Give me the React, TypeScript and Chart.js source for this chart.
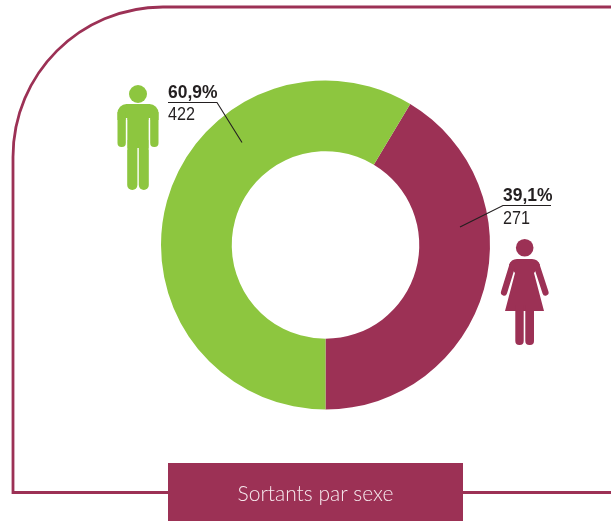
import React, { useEffect, useRef } from "react";
import { Chart, registerables } from "chart.js";

Chart.register(...registerables);

const categories = ["Femmes", "Hommes"];
const effectifs = [271, 422];
const pourcentages = ["39,1%", "60,9%"];
// Arc shares as drawn in the source picture (its slices differ a little from the printed percentages).
const drawnShares = [41.39, 58.61];
const title = "Sortants par sexe";

const MAROON = "#9c3155";
const GREEN = "#8dc63f";
const INK = "#231f20";

function narrowText(c: CanvasRenderingContext2D, text: string, x: number, y: number, sx: number) {
  c.save();
  c.translate(x, y);
  c.scale(sx, 1);
  c.fillText(text, 0, 0);
  c.restore();
}

const decoration = {
  id: "decoration",
  beforeDraw(chart: any) {
    const c = chart.ctx as CanvasRenderingContext2D;
    c.save();
    // frame
    c.strokeStyle = MAROON;
    c.lineWidth = 2.8;
    c.beginPath();
    c.moveTo(611, 7);
    c.lineTo(163, 7);
    c.bezierCurveTo(80, 7, 13, 74, 13, 157);
    c.lineTo(13, 492.5);
    c.lineTo(611, 492.5);
    c.stroke();
    c.fillStyle = MAROON;
    c.fillRect(168, 463, 295, 58);
    c.restore();
  },
  afterDraw(chart: any) {
    const c = chart.ctx as CanvasRenderingContext2D;
    c.save();
    // man
    c.fillStyle = GREEN;
    c.beginPath(); c.arc(138, 94, 9, 0, Math.PI * 2); c.fill();
    c.beginPath();
    c.roundRect(117.5, 104, 41, 16, [9, 9, 0, 0]);
    c.fill();
    c.beginPath(); c.roundRect(117.5, 112, 8.4, 35, [0, 0, 4, 4]); c.fill();
    c.beginPath(); c.roundRect(150.1, 112, 8.4, 35, [0, 0, 4, 4]); c.fill();
    c.fillRect(127.2, 112, 21.6, 36);
    c.beginPath(); c.roundRect(127.2, 140, 10.2, 50, [0, 0, 5, 5]); c.fill();
    c.beginPath(); c.roundRect(138.8, 140, 10, 50, [0, 0, 5, 5]); c.fill();
    c.fillStyle = "#fff";
    c.fillRect(125.9, 118, 1.3, 32);
    c.fillRect(148.8, 118, 1.3, 32);

    // woman
    c.fillStyle = MAROON;
    c.beginPath(); c.arc(524.7, 247.7, 8.8, 0, Math.PI * 2); c.fill();
    c.beginPath();
    c.moveTo(517, 259); c.lineTo(532, 259);
    c.quadraticCurveTo(538, 259, 540, 265);
    c.lineTo(534, 273); c.lineTo(544, 311); c.lineTo(505, 311); c.lineTo(515, 273);
    c.lineTo(509, 265);
    c.quadraticCurveTo(511, 259, 517, 259);
    c.closePath();
    c.fill();
    c.lineCap = "round";
    c.strokeStyle = MAROON;
    c.lineWidth = 6.2;
    c.beginPath();
    c.moveTo(512.5, 265); c.lineTo(504, 292.5);
    c.moveTo(536.5, 265); c.lineTo(545.5, 292.5);
    c.stroke();
    c.beginPath(); c.roundRect(515.3, 305, 8.4, 40, [0, 0, 4, 4]); c.fill();
    c.beginPath(); c.roundRect(525.3, 305, 8.7, 40, [0, 0, 4, 4]); c.fill();

    // callouts
    c.strokeStyle = INK;
    c.lineWidth = 1.1;
    c.lineCap = "butt";
    c.beginPath();
    c.moveTo(168, 102.5); c.lineTo(217, 102.5); c.lineTo(242, 142.5);
    c.moveTo(460, 227); c.lineTo(503, 205.5); c.lineTo(551, 205.5);
    c.stroke();

    c.fillStyle = INK;
    c.textBaseline = "alphabetic";
    c.textAlign = "left";
    c.font = "bold 18px 'Liberation Sans'";
    narrowText(c, pourcentages[1], 168, 98, 0.97);
    narrowText(c, pourcentages[0], 503, 201, 0.97);
    c.font = "18px 'Liberation Sans'";
    narrowText(c, String(effectifs[1]), 168, 120, 0.9);
    narrowText(c, String(effectifs[0]), 503, 224, 0.9);

    c.fillStyle = "#f7e9ee";
    c.textAlign = "center";
    c.font = "300 21px Lato";
    c.fillText(title, 315.5, 501);
    c.restore();
  },
};

export default function App() {
  const ref = useRef<HTMLCanvasElement>(null);
  useEffect(() => {
    const chart = new Chart(ref.current!, {
      type: "doughnut",
      data: {
        labels: categories,
        datasets: [{
          data: drawnShares,
          backgroundColor: [MAROON, GREEN],
          borderWidth: 0,
        }],
      },
      options: {
        responsive: false,
        animation: false,
        rotation: 31,
        cutout: "57%",
        layout: { padding: { left: 161, right: 121, top: 80, bottom: 111 } },
        plugins: { legend: { display: false }, tooltip: { enabled: false }, title: { display: false } },
      },
      plugins: [decoration],
    });
    return () => chart.destroy();
  }, []);
  return (
    <div style={{ position: "absolute", left: 0, top: 0, width: 611, height: 521, background: "#fff" }}>
      <canvas ref={ref} width={611} height={521} style={{ display: "block" }} />
    </div>
  );
}
